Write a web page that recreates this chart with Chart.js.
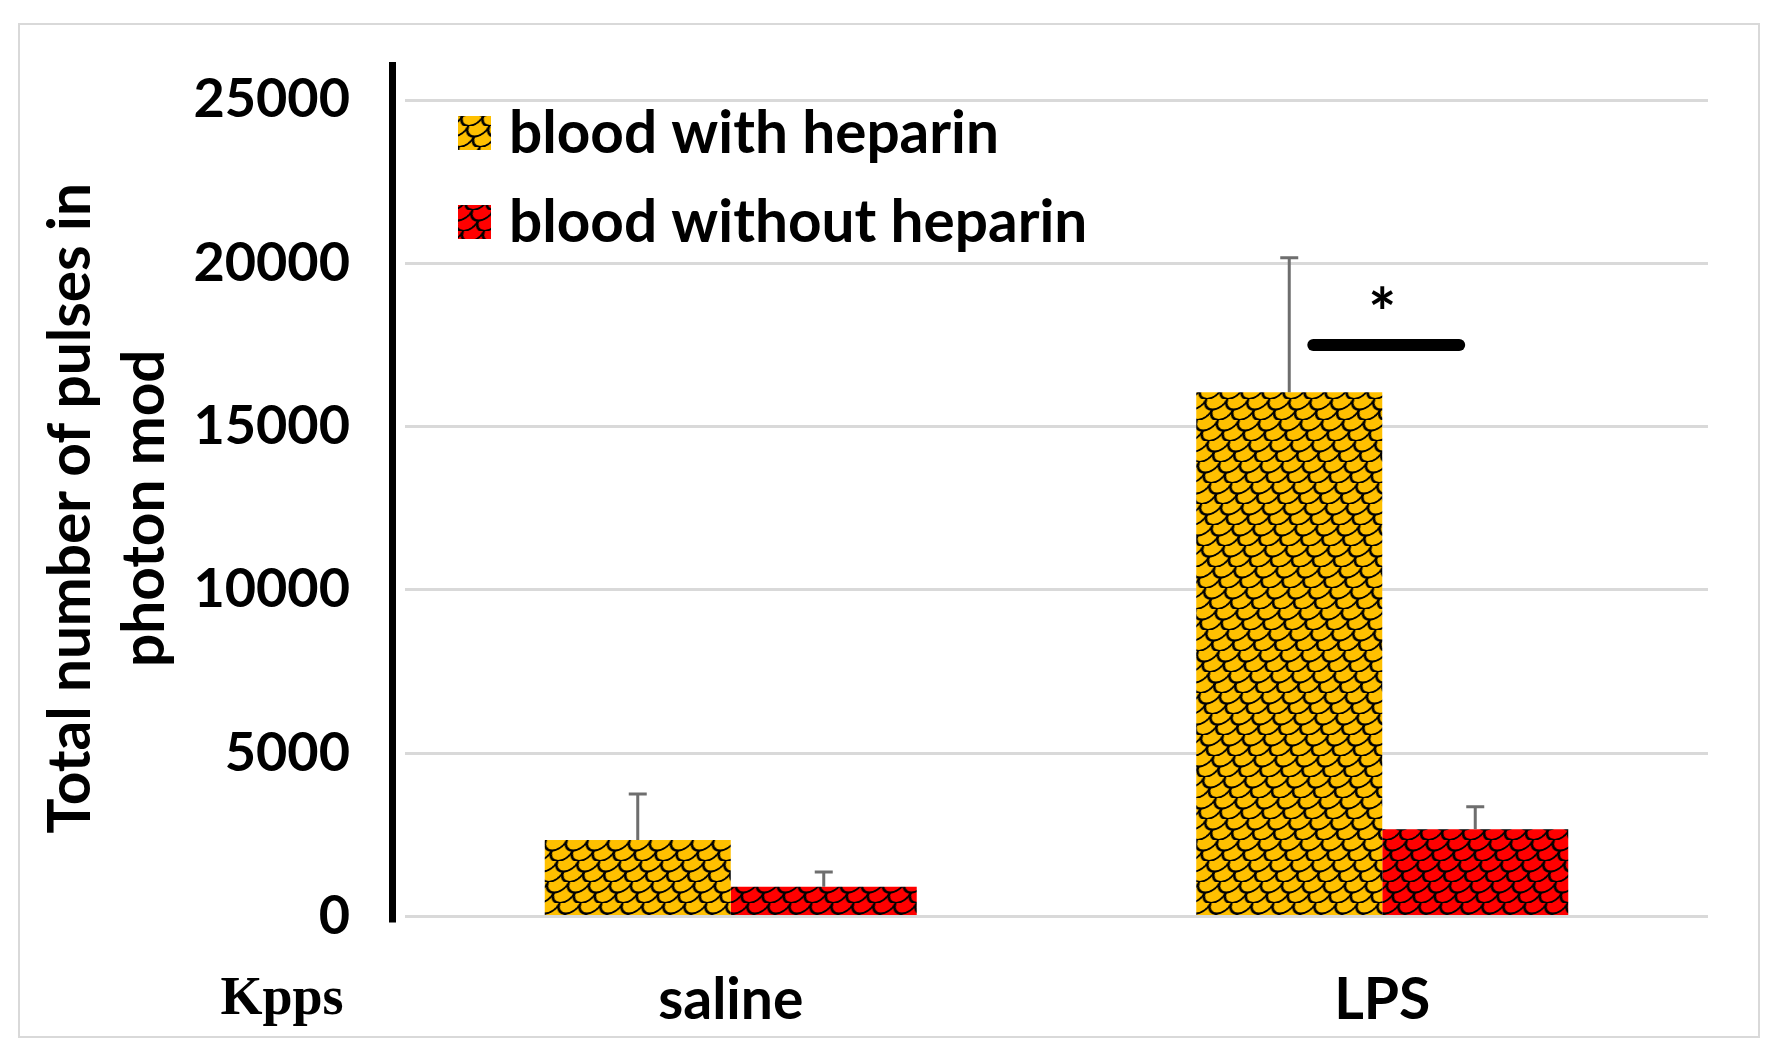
<!DOCTYPE html>
<html lang="en">
<head>
<meta charset="UTF-8">
<title>Total number of pulses in photon mod</title>
<script src="https://cdn.jsdelivr.net/npm/chart.js"></script>
<style>
  html, body { margin: 0; padding: 0; background: #fff; }
  .wrap { position: relative; width: 1774px; height: 1061px; }
  .frame {
    position: absolute; left: 18px; top: 23px; width: 1742px; height: 1015px;
    border: 2px solid #d9d9d9; box-sizing: border-box; pointer-events: none;
  }
</style>
</head>
<body>
<div class="wrap">
  <canvas id="chart" width="1774" height="1061"></canvas>
  <div class="frame"></div>
</div>
<script>
const categories = ['saline', 'LPS'];
const seriesLabels = ['blood with heparin', 'blood without heparin'];
const withHeparin = [2340, 16050];
const withoutHeparin = [910, 2670];
const errWithHeparin = [1410, 4120];
const errWithoutHeparin = [450, 690];
const yTicks = [0, 5000, 10000, 15000, 20000, 25000];
const yTitle = ['Total number of pulses in', 'photon mod'];
const unitLabel = 'Kpps';
// significance marker over LPS
const sigCategory = 1;
const sigValue = 17500;
const sigStarValue = 17750;
const sigMark = '*';

const FONT = 'Lato';

function scalePattern(color) {
  const c = document.createElement('canvas');
  c.width = 21; c.height = 21;
  const g = c.getContext('2d');
  g.fillStyle = color;
  g.fillRect(0, 0, 21, 21);
  g.strokeStyle = '#000';
  g.lineWidth = 2.2;
  g.beginPath(); g.arc(10.5, 0, 10.5, 0, Math.PI); g.stroke();
  g.beginPath(); g.arc(0, 10.5, 10.5, 0, Math.PI / 2); g.stroke();
  g.beginPath(); g.arc(21, 10.5, 10.5, Math.PI / 2, Math.PI); g.stroke();
  const p = g.createPattern(c, 'repeat');
  p.setTransform(new DOMMatrix([1, 0, -0.45, 1, 0, 0]));
  return p;
}

const fills = [scalePattern('#FFC000'), scalePattern('#FF0000')];
const errors = [errWithHeparin, errWithoutHeparin];

const decorations = {
  id: 'decorations',
  afterDatasetsDraw(chart) {
    const { ctx, scales: { x, y } } = chart;
    ctx.save();
    // error bars (upper only)
    ctx.strokeStyle = '#6e6e6e';
    ctx.lineWidth = 3;
    errors.forEach((errs, di) => {
      const meta = chart.getDatasetMeta(di);
      meta.data.forEach((bar, i) => {
        const top = y.getPixelForValue(chart.data.datasets[di].data[i] + errs[i]);
        ctx.beginPath();
        ctx.moveTo(bar.x, bar.y);
        ctx.lineTo(bar.x, top);
        ctx.moveTo(bar.x - 9, top);
        ctx.lineTo(bar.x + 9, top);
        ctx.stroke();
      });
    });
    // significance bar + star
    const catW = (x.right - x.left) / categories.length;
    const cx = x.getPixelForValue(sigCategory) + 4;
    const sy = y.getPixelForValue(sigValue);
    ctx.strokeStyle = '#000';
    ctx.lineWidth = 12;
    ctx.lineCap = 'round';
    ctx.beginPath();
    ctx.moveTo(cx - catW * 0.112, sy);
    ctx.lineTo(cx + catW * 0.112, sy);
    ctx.stroke();
    ctx.fillStyle = '#000';
    ctx.font = 'bold 66px ' + FONT;
    ctx.textAlign = 'center';
    ctx.textBaseline = 'alphabetic';
    ctx.fillText(sigMark, cx - 4, y.getPixelForValue(sigStarValue));
    ctx.restore();
  },
  afterDraw(chart) {
    const { ctx, chartArea } = chart;
    ctx.save();
    // vertical axis line
    ctx.fillStyle = '#000';
    ctx.fillRect(chartArea.left - 16, chartArea.top - 38, 7, chartArea.bottom - chartArea.top + 44);
    // legend
    ctx.font = 'bold 58.5px ' + FONT;
    ctx.textAlign = 'left';
    ctx.textBaseline = 'alphabetic';
    seriesLabels.forEach((label, i) => {
      const top = chartArea.top + 16 + i * 89;
      ctx.fillStyle = fills[i];
      ctx.fillRect(chartArea.left + 53, top, 33, 34);
      ctx.fillStyle = '#000';
      ctx.fillText(label, chartArea.left + 104, top + 37);
    });
    // unit label
    ctx.font = 'bold 54px "Liberation Serif"';
    ctx.textAlign = 'center';
    ctx.fillText(unitLabel, chartArea.left - 123, chartArea.bottom + 97);
    ctx.restore();
  }
};

new Chart(document.getElementById('chart'), {
  type: 'bar',
  data: {
    labels: categories,
    datasets: [
      { label: seriesLabels[0], data: withHeparin, backgroundColor: fills[0], borderWidth: 0 },
      { label: seriesLabels[1], data: withoutHeparin, backgroundColor: fills[1], borderWidth: 0 }
    ]
  },
  options: {
    responsive: false,
    devicePixelRatio: 1,
    animation: false,
    layout: { padding: { top: 100, right: 66, left: 0, bottom: 0 } },
    datasets: { bar: { categoryPercentage: 0.571, barPercentage: 1 } },
    plugins: { legend: { display: false }, tooltip: { enabled: false } },
    scales: {
      x: {
        grid: { display: false },
        border: { display: false },
        ticks: { color: '#000', font: { family: FONT, weight: 'bold', size: 57 }, padding: 42 },
        afterFit(s) { s.height = 144.5; }
      },
      y: {
        min: 0,
        max: 25000,
        afterBuildTicks(s) { s.ticks = yTicks.map(v => ({ value: v })); },
        grid: { color: '#d9d9d9', lineWidth: 3, drawTicks: false },
        border: { display: false },
        ticks: {
          color: '#000',
          font: { family: FONT, weight: 'bold', size: 54 },
          padding: 55,
          callback: v => String(v)
        },
        title: {
          display: true,
          text: yTitle,
          color: '#000',
          font: { family: FONT, weight: 'bold', size: 58.5, lineHeight: 1.27 },
          padding: { top: 34, bottom: 0 }
        },
        afterFit(s) { s.width = 405; }
      }
    }
  },
  plugins: [decorations]
});
</script>
</body>
</html>
